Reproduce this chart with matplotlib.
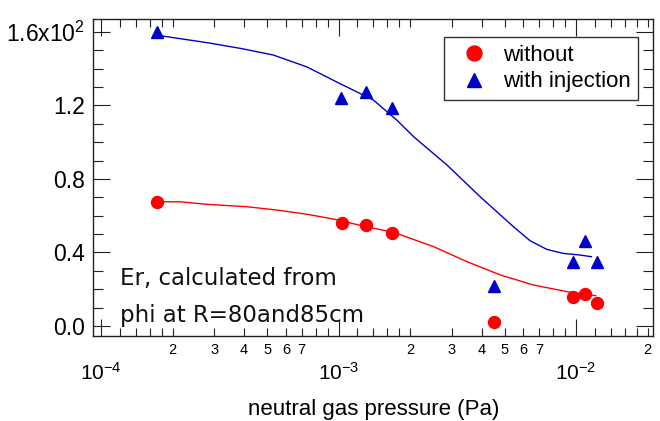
import numpy as np
import matplotlib
matplotlib.use("Agg")
import matplotlib.pyplot as plt
from matplotlib.ticker import LogLocator, FuncFormatter, MultipleLocator

plt.rcParams["font.family"] = ["Liberation Sans", "DejaVu Sans"]
plt.rcParams["mathtext.fontset"] = "custom"
plt.rcParams["mathtext.rm"] = "Liberation Sans"
plt.rcParams["mathtext.it"] = "Liberation Sans:italic"
plt.rcParams["mathtext.default"] = "regular"

# measured points (Er in units of 10^2)
p_without = [1.72e-4, 1.03e-3, 1.30e-3, 1.68e-3, 4.53e-3, 9.67e-3, 1.09e-2, 1.22e-2]
er_without = [0.673, 0.559, 0.550, 0.508, 0.023, 0.158, 0.172, 0.124]

p_with = [1.72e-4, 1.02e-3, 1.30e-3, 1.68e-3, 4.49e-3, 9.67e-3, 1.09e-2, 1.22e-2]
er_with = [1.60, 1.243, 1.276, 1.186, 0.218, 0.350, 0.460, 0.350]

# fitted curves
fit_p_without = [1.72e-4, 2.15e-4, 2.79e-4, 4.11e-4, 5.49e-4, 7.35e-4, 9.51e-4,
                 1.31e-3, 1.70e-3, 2.51e-3, 3.47e-3, 4.79e-3, 6.61e-3, 9.14e-3, 1.21e-2]
fit_er_without = [0.676, 0.676, 0.662, 0.649, 0.631, 0.608, 0.582,
                  0.540, 0.510, 0.432, 0.350, 0.278, 0.223, 0.187, 0.165]

fit_p_with = [1.77e-4, 2.79e-4, 3.85e-4, 5.30e-4, 7.35e-4, 1.01e-3, 1.40e-3, 1.76e-3,
              2.07e-3, 2.86e-3, 3.94e-3, 5.45e-3, 6.40e-3, 7.52e-3, 8.82e-3, 1.04e-2, 1.16e-2]
fit_er_with = [1.580, 1.542, 1.511, 1.475, 1.410, 1.320, 1.230, 1.120,
               1.030, 0.876, 0.704, 0.540, 0.464, 0.417, 0.395, 0.386, 0.377]

red = "#ff0000"
blue = "#0000cc"

fig = plt.figure(figsize=(6.6, 4.21), dpi=100)
fig.subplots_adjust(left=0.141, right=0.990, bottom=0.2026, top=0.955)
ax = fig.add_subplot(111)

ax.plot(fit_p_without, fit_er_without, color=red, linewidth=1.0)
ax.plot(fit_p_with, fit_er_with, color=blue, linewidth=1.0)
ax.plot(p_without, er_without, "o", color=red, markersize=8.6,
        linestyle="none", label="without")
ax.plot(p_with, er_with, "^", color=blue, markersize=8.6,
        linestyle="none", label="with injection")

ax.set_xscale("log")
ax.set_xlim(9.25e-5, 2.116e-2)
ax.set_ylim(-0.053, 1.671)

# x ticks
ax.xaxis.set_major_locator(LogLocator(base=10))
ax.xaxis.set_minor_locator(LogLocator(base=10, subs=[1.2, 1.4, 1.6, 1.8, 2, 3, 4, 5, 6, 7, 8, 9]))


def minor_label(x, pos):
    m = x / 10 ** np.floor(np.log10(x) + 1e-9)
    r = round(m)
    if abs(m - r) < 0.01 and 2 <= r <= 7:
        return str(int(r))
    return ""


ax.xaxis.set_minor_formatter(FuncFormatter(minor_label))

# y ticks
ax.yaxis.set_major_locator(MultipleLocator(0.4))
ax.yaxis.set_minor_locator(MultipleLocator(0.1))


def y_label(v, pos):
    if abs(v - 1.6) < 1e-6:
        return "1.6x10$^2$"
    return f"{v:.1f}"


ax.yaxis.set_major_formatter(FuncFormatter(y_label))

ax.tick_params(which="both", direction="in", top=True, right=True,
               width=0.8, color="#222222")
ax.tick_params(axis="x", which="major", length=12, pad=19, labelsize=15)
ax.tick_params(axis="x", which="minor", length=6, pad=5, labelsize=10.5)
ax.tick_params(axis="y", which="major", length=12, pad=6, labelsize=16.5)
ax.tick_params(axis="y", which="minor", length=7)

for s in ax.spines.values():
    s.set_linewidth(1.0)
    s.set_color("#222222")

ax.set_xlabel("neutral gas pressure (Pa)", fontsize=16)
ax.xaxis.set_label_coords(0.5, -0.2)

ax.text(0.048, 0.160, "Er, calculated from", transform=ax.transAxes,
        fontsize=16.5, family="DejaVu Sans", va="baseline", color="#111111")
ax.text(0.048, 0.044, "phi at R=80and85cm", transform=ax.transAxes,
        fontsize=16.5, family="DejaVu Sans", va="baseline", color="#111111")

leg = ax.legend(loc="upper right", bbox_to_anchor=(0.973, 0.943), fontsize=16,
                markerscale=1.25, frameon=True, fancybox=False, borderpad=0.35,
                labelspacing=0.25, handletextpad=0.3, handlelength=2.0,
                borderaxespad=0.0)
leg.get_frame().set_edgecolor("black")
leg.get_frame().set_linewidth(1.0)

fig.savefig("out.png", dpi=100)
